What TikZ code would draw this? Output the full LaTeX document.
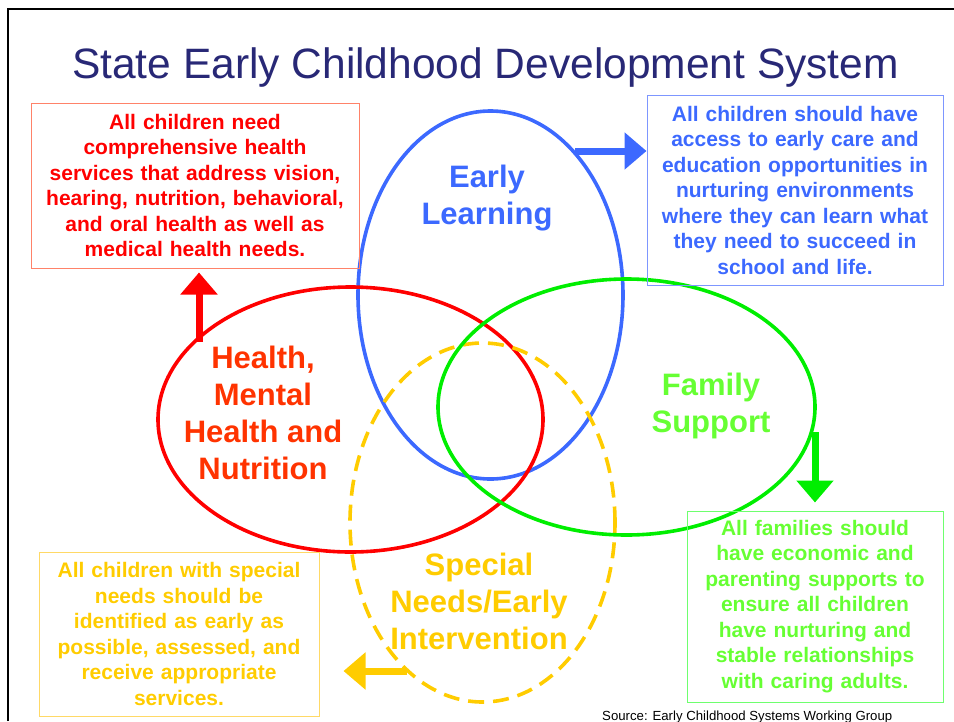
\documentclass[tikz,border=0pt]{standalone}
\usepackage{fontspec}
\setmainfont{Liberation Sans}
\usetikzlibrary{shapes.geometric,arrows.meta}
\definecolor{titleblue}{RGB}{40,40,118}
\definecolor{elblue}{RGB}{60,105,255}
\definecolor{boxblue}{RGB}{125,150,255}
\definecolor{hred}{RGB}{255,0,0}
\definecolor{hlabel}{RGB}{255,51,0}
\definecolor{boxred}{RGB}{255,130,105}
\definecolor{elgreen}{RGB}{0,238,0}
\definecolor{txtgreen}{RGB}{102,255,51}
\definecolor{boxgreen}{RGB}{110,255,110}
\definecolor{sgold}{RGB}{255,204,0}
\definecolor{boxgold}{RGB}{255,217,102}
\tikzset{
  region/.style={draw=#1, ellipse, line width=3.6pt, inner sep=0pt},
  area label/.style={text=#1, align=center, font=\fontsize{31}{37}\selectfont\bfseries},
  info box/.style={draw=#1, line width=1pt, inner sep=4pt, align=center,
    font=\fontsize{21}{25.5}\selectfont\bfseries},
  block arrow/.style={draw=#1, line width=7pt, -{Triangle[width=36pt,length=22pt,fill=#1]}},
}

\begin{document}
\begin{tikzpicture}[x=1pt,y=-1pt]
    \useasboundingbox (0,0) rectangle (954,721);
    \clip (0,0) rectangle (954,721);
    \draw[line width=2pt] (8,721) -- (8,9) -- (954,9);% slide frame

    \node[anchor=base, text=titleblue, font=\fontsize{42.5}{50}\selectfont] (title)
      at (485.5,78) {State Early Childhood Development System};

    % the four areas
    \foreach \name/\col/\cx/\cy/\w/\h in {learnarea/elblue/490.5/295/265/368,
        healtharea/hred/350.5/419.5/385/265}{
      \node[region=\col, minimum width=\w pt, minimum height=\h pt] (\name) at (\cx,\cy) {};
    }
    \node[region=sgold, dash pattern=on 16pt off 9pt, minimum width=265pt,
      minimum height=359pt] (specialarea) at (482.5,522.5) {};
    \node[region=elgreen, minimum width=377pt, minimum height=256pt] (familyarea)
      at (626.5,407) {};

    \node[area label=elblue] (learnlabel) at (487,198) {Early\\Learning};
    \node[area label=hlabel] (healthlabel) at (263,413) {Health,\\Mental\\Health and\\Nutrition};
    \node[area label=txtgreen] (familylabel) at (711,406) {Family\\Support};
    \node[area label=sgold] (speciallabel) at (479,601) {Special\\Needs/Early\\Intervention};

    % the four boxes
    \node[info box=boxred, text=hred, text width=320pt, minimum height=165pt] (healthbox)
      at (195,185.5) {All children need\\comprehensive health\\services that address vision,\\
      hearing, nutrition, behavioral,\\and oral health as well as\\medical health needs.};
    \node[info box=boxblue, text=elblue, text width=288pt, minimum height=190pt] (learnbox)
      at (795,190) {All children should have\\access to early care and\\education opportunities in\\
      nurturing environments\\where they can learn what\\they need to succeed in\\school and life.};
    \node[info box=boxgold, text=sgold, text width=272pt, minimum height=164pt] (specialbox)
      at (179,634) {All children with special\\needs should be\\identified as early as\\
      possible, assessed, and\\receive appropriate\\services.};
    \node[info box=boxgreen, text=txtgreen, text width=248pt, minimum height=191pt] (familybox)
      at (815,606.5) {All families should\\have economic and\\parenting supports to\\
      ensure all children\\have nurturing and\\stable relationships\\with caring adults.};

    % arrows from the areas to the boxes
    \coordinate (learnfoot) at (575,151);
    \coordinate (healthfoot) at (199,342);
    \coordinate (familyfoot) at (815,432);
    \coordinate (specialfoot) at (407,671);
    \draw[block arrow=elblue] (learnfoot) -- (learnfoot -| learnbox.west);
    \draw[block arrow=hred] (healthfoot) -- ([yshift=-4pt]healthfoot |- healthbox.south);
    \draw[block arrow=elgreen] (familyfoot) -- ([yshift=8pt]familyfoot |- familybox.north);
    \draw[block arrow=sgold] (specialfoot) -- ([xshift=24pt]specialfoot -| specialbox.east);

    \node[anchor=base west, inner sep=0pt, font=\fontsize{13.2}{15}\selectfont] (source)
      at (602,720) {Source: Early Childhood Systems Working Group};
\end{tikzpicture}
\end{document}
